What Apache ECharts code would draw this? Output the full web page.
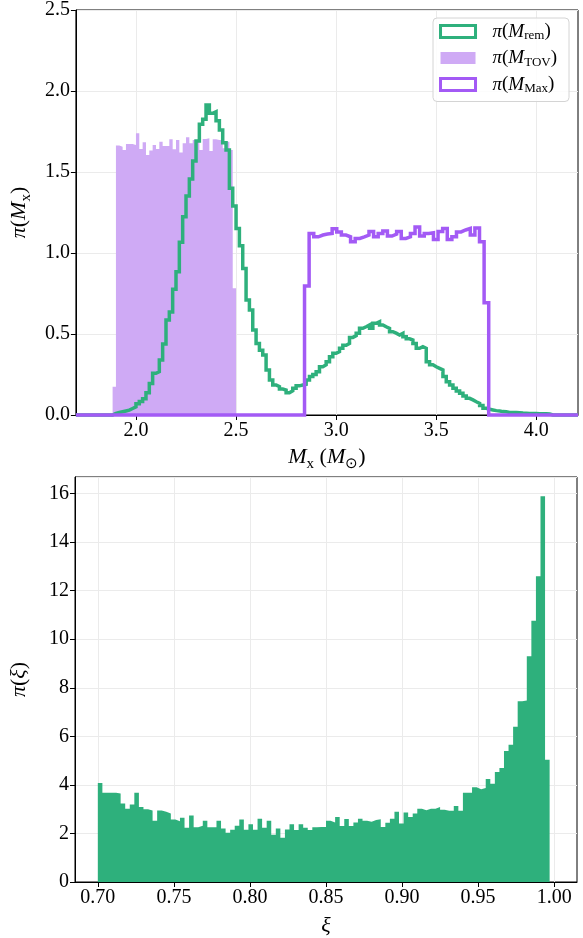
<!DOCTYPE html>
<html><head><meta charset="utf-8">
<script src="https://cdn.jsdelivr.net/npm/echarts@6/dist/echarts.min.js"></script>
<style>html,body{margin:0;padding:0;background:#fff}#c{width:583px;height:938px}</style>
</head><body><div id="c"></div>
<script>
// ---- data: top panel (histograms of M_x) ----
const remStart = 1.7, remWidth = 1 / 60;
const remValues = [
  0,0,0,0,0,0,0,0,0,0,
  0,0.01,0.015,0.02,0.025,0.03,0.04,0.05,0.07,0.083,
  0.10,0.138,0.195,0.257,0.267,0.34,0.438,0.586,0.636,0.776,
  0.885,1.066,1.224,1.352,1.457,1.568,1.691,1.794,1.825,1.914,
  1.862,1.872,1.817,1.759,1.681,1.636,1.399,1.29,1.152,1.045,
  0.905,0.71,0.648,0.525,0.442,0.40,0.37,0.278,0.216,0.185,
  0.175,0.16,0.154,0.138,0.15,0.165,0.18,0.185,0.189,0.216,
  0.237,0.25,0.267,0.298,0.31,0.329,0.36,0.381,0.391,0.412,
  0.43,0.442,0.479,0.49,0.504,0.535,0.545,0.556,0.535,0.566,
  0.576,0.556,0.545,0.535,0.514,0.505,0.494,0.504,0.483,0.47,
  0.463,0.442,0.412,0.422,0.412,0.329,0.31,0.298,0.288,0.278,
  0.237,0.206,0.185,0.165,0.148,0.134,0.117,0.103,0.093,0.082,
  0.072,0.058,0.041,0.035,0.031,0.027,0.025,0.021,0.02,0.016,
  0.015,0.015,0.014,0.012,0.011,0.01,0.01,0.009,0.008,0.008,
  0.007,0.006,0,0,0,0,0,0,0,0
];
const tovStart = 1.7 + 11 / 60, tovWidth = 1 / 60;
const tovValues = [
  0.175,1.663,1.656,1.636,1.673,1.673,1.667,1.739,1.642,1.683,
  1.605,1.632,1.667,1.642,1.687,1.66,1.66,1.702,1.64,1.698,
  1.62,1.677,1.714,1.677,1.698,1.698,1.636,1.704,1.708,1.63,
  1.702,1.698,1.698,1.646,1.687,1.636,0.782
];
const maxStart = 2.842, maxWidth = 0.023;
const maxValues = [
  0.796,1.121,1.10,1.111,1.117,1.121,1.15,1.13,1.111,1.10,
  1.07,1.09,1.10,1.111,1.132,1.10,1.121,1.136,1.105,1.117,
  1.132,1.09,1.10,1.12,1.16,1.105,1.121,1.125,1.084,1.132,
  1.152,1.084,1.10,1.13,1.142,1.152,1.111,1.155,1.07,0.693
];
const topXTicks = [2.0, 2.5, 3.0, 3.5, 4.0];

// ---- data: bottom panel (histogram of xi) ----
const xiStart = 0.70, xiWidth = 0.003;
const xiValues = [
  4.08,3.68,3.68,3.68,3.65,3.23,3.02,3.19,3.68,3.09,
  3.0,2.94,2.52,2.94,2.89,2.82,2.57,2.50,2.65,2.23,
  2.74,2.26,2.32,2.52,2.26,2.26,2.52,2.2,2.03,2.15,
  2.32,2.57,2.15,2.38,2.15,2.6,2.23,2.52,1.95,2.2,
  1.82,2.16,2.38,2.14,2.38,2.23,2.14,2.25,2.27,2.27,
  2.52,2.45,2.68,2.31,2.59,2.31,2.45,2.61,2.52,2.48,
  2.55,2.58,2.27,2.44,2.61,2.89,2.41,2.86,2.68,2.82,
  3.02,2.95,3.02,3.02,3.09,2.98,2.93,2.93,3.13,2.93,
  3.68,3.68,3.90,3.82,3.87,4.24,4.05,4.53,4.69,5.40,
  5.65,6.39,7.44,7.48,9.30,10.76,12.59,15.89,5.03
];
const bottomXTicks = [0.70, 0.75, 0.80, 0.85, 0.90, 0.95, 1.00];

// ---- styling ----
const GREEN = '#2eb07c', PURPLE = '#a35af5', LAVENDER = '#cfaaf5';
const SERIF = 'Liberation Serif';
const TOP_X = [1.7, 4.208], BOT_X = [0.685, 1.015];

function stepPoints(start, width, vals, lo, hi) {
  const pts = [];
  if (lo !== undefined) pts.push([lo, 0]);
  pts.push([start, 0]);
  vals.forEach((v, i) => pts.push([start + i * width, v]));
  pts.push([start + vals.length * width, 0]);
  if (hi !== undefined) pts.push([hi, 0]);
  return pts;
}

function richSet(size, lh, lead) {
  const subSize = Math.round(size * 0.68);
  return {
    lead: {fontFamily: SERIF, fontStyle: 'italic', fontSize: size, lineHeight: lh, verticalAlign: 'middle', color: '#000', padding: [0, 0, 0, lead || 0]},
    it: {fontFamily: SERIF, fontStyle: 'italic', fontSize: size, lineHeight: lh, verticalAlign: 'middle', color: '#000'},
    rm: {fontFamily: SERIF, fontSize: size, lineHeight: lh, verticalAlign: 'middle', color: '#000'},
    sub: {fontFamily: SERIF, fontSize: subSize, lineHeight: subSize + 2, verticalAlign: 'bottom', color: '#000'}
  };
}

const legendLabels = {
  rem: '{lead|π}{rm|(}{it|M}{sub|rem}{rm|)}',
  TOV: '{lead|π}{rm|(}{it|M}{sub|TOV}{rm|)}',
  Max: '{lead|π}{rm|(}{it|M}{sub|Max}{rm|)}'
};

function valueAxis(gridIndex, range, ticks, digits, name, gap) {
  return {
    type: 'value', gridIndex, min: range[0], max: range[1],
    name, nameLocation: 'middle', nameGap: gap,
    nameTextStyle: {rich: richSet(22, 30)},
    axisLine: {show: true, onZero: false, lineStyle: {color: '#000', width: 1}},
    axisTick: {show: true, length: 5, customValues: ticks, lineStyle: {color: '#000'}},
    axisLabel: {customValues: ticks, formatter: v => v.toFixed(digits), fontFamily: SERIF, fontSize: 20, color: '#000', margin: 6},
    splitLine: {show: true, lineStyle: {color: '#ebebeb', width: 1}}
  };
}

const chart = echarts.init(document.getElementById('c'), null, {renderer: 'canvas'});
chart.setOption({
  backgroundColor: '#fff',
  animation: false,
  grid: [
    {left: 75, top: 10, width: 503, height: 405, show: true, borderColor: '#000', borderWidth: 1, backgroundColor: 'transparent'},
    {left: 75, top: 477, width: 502, height: 407, show: true, borderColor: '#000', borderWidth: 1, backgroundColor: 'transparent'}
  ],
  xAxis: [
    valueAxis(0, TOP_X, topXTicks, 1, '{it|M}{sub|x}{rm| (}{it|M}{sub|⊙}{rm|)}', 27),
    valueAxis(1, BOT_X, bottomXTicks, 2, '{it|ξ}', 29)
  ],
  yAxis: [
    {
      type: 'value', gridIndex: 0, min: 0, max: 2.5, interval: 0.5,
      name: '{it|π}{rm|(}{it|M}{sub|x}{rm|)}', nameLocation: 'middle', nameGap: 41,
      nameTextStyle: {rich: richSet(22, 30)},
      axisLine: {show: true, lineStyle: {color: '#000'}},
      axisTick: {show: true, length: 5, lineStyle: {color: '#000'}},
      axisLabel: {formatter: v => v.toFixed(1), fontFamily: SERIF, fontSize: 20, color: '#000', margin: 6},
      splitLine: {show: true, lineStyle: {color: '#ebebeb', width: 1}}
    },
    {
      type: 'value', gridIndex: 1, min: 0, max: 16.68, interval: 2,
      name: '{it|π}{rm|(}{it|ξ}{rm|)}', nameLocation: 'middle', nameGap: 41,
      nameTextStyle: {rich: richSet(22, 30)},
      axisLine: {show: true, lineStyle: {color: '#000'}},
      axisTick: {show: true, length: 5, lineStyle: {color: '#000'}},
      axisLabel: {formatter: v => String(v), fontFamily: SERIF, fontSize: 20, color: '#000', margin: 6},
      splitLine: {show: true, lineStyle: {color: '#ebebeb', width: 1}}
    }
  ],
  legend: {
    orient: 'vertical', right: 14, top: 18, icon: 'rect',
    itemWidth: 35, itemHeight: 12, itemGap: 6,
    padding: [4, 12, 6, 6],
    backgroundColor: 'rgba(255,255,255,0.85)', borderColor: '#d4d4d4', borderWidth: 1, borderRadius: 4,
    textStyle: {fontFamily: SERIF, fontSize: 19, color: '#000', rich: richSet(19, 22, 12)},
    formatter: n => legendLabels[n],
    data: [
      {name: 'rem', itemStyle: {color: '#fff', borderColor: GREEN, borderWidth: 3}},
      {name: 'TOV', itemStyle: {color: LAVENDER, borderWidth: 0}},
      {name: 'Max', itemStyle: {color: '#fff', borderColor: PURPLE, borderWidth: 3}}
    ]
  },
  series: [
    {
      name: 'TOV', type: 'line', xAxisIndex: 0, yAxisIndex: 0, step: 'end', symbol: 'none', z: 1,
      data: stepPoints(tovStart, tovWidth, tovValues),
      lineStyle: {width: 0, color: LAVENDER}, itemStyle: {color: LAVENDER},
      areaStyle: {color: LAVENDER, opacity: 1}
    },
    {
      name: 'rem', type: 'line', xAxisIndex: 0, yAxisIndex: 0, step: 'end', symbol: 'none', z: 3, clip: false,
      data: stepPoints(remStart, remWidth, remValues, TOP_X[0], TOP_X[1]),
      lineStyle: {width: 3.5, color: GREEN, join: 'miter'}, itemStyle: {color: GREEN}
    },
    {
      name: 'Max', type: 'line', xAxisIndex: 0, yAxisIndex: 0, step: 'end', symbol: 'none', z: 4, clip: false,
      data: stepPoints(maxStart, maxWidth, maxValues, TOP_X[0], TOP_X[1]),
      lineStyle: {width: 3.5, color: PURPLE, join: 'miter'}, itemStyle: {color: PURPLE}
    },
    {
      name: 'xi', type: 'line', xAxisIndex: 1, yAxisIndex: 1, step: 'end', symbol: 'none', z: 2,
      data: stepPoints(xiStart, xiWidth, xiValues),
      lineStyle: {width: 0, color: GREEN}, itemStyle: {color: GREEN},
      areaStyle: {color: GREEN, opacity: 1}
    }
  ]
});
</script>
</body></html>
